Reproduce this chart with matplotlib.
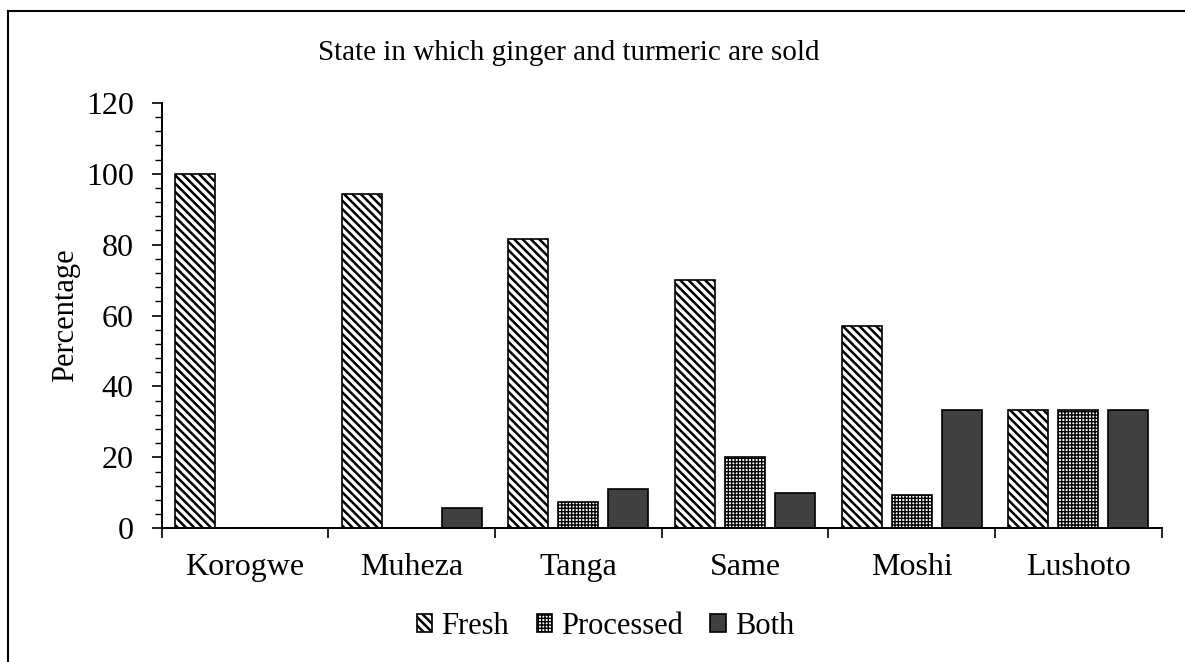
import numpy as np
import matplotlib
matplotlib.use('Agg')
import matplotlib.pyplot as plt
from matplotlib.lines import Line2D

# データ
districts = ['Korogwe', 'Muheza', 'Tanga', 'Same', 'Moshi', 'Lushoto']
fresh = [100, 94.4, 81.5, 70, 57.1, 33.3]
processed = [0, 0, 7.4, 20, 9.5, 33.3]
both = [0, 5.6, 11.1, 10, 33.3, 33.3]
series_names = ['Fresh', 'Processed', 'Both']

plt.rcParams['font.family'] = ['Liberation Serif', 'DejaVu Serif']
fs = 22
hatch_lw = [1.8, 1.0]

fig = plt.figure(figsize=(11.85, 6.62), dpi=100)
ax = fig.add_axes([0.1365, 0.202, 0.8438, 0.6427])

x = np.arange(len(districts))
w = 0.24
bars_f = ax.bar(x - 0.3, fresh, w, facecolor='white', edgecolor='black', hatch='\\\\\\\\',
                linewidth=1.2, label=series_names[0])
bars_p = ax.bar(x, processed, w, facecolor='white', edgecolor='black', hatch='+++++',
                linewidth=1.2, label=series_names[1])
ax.bar(x + 0.3, both, w, facecolor='#404040', edgecolor='black',
       linewidth=1.2, label=series_names[2])

# ハッチの線幅を系列ごとに設定
for p in bars_f:
    p.set_hatch_linewidth(hatch_lw[0])
for p in bars_p:
    p.set_hatch_linewidth(hatch_lw[1])

ax.set_xlim(-0.5, len(districts) - 0.5)
ax.set_ylim(0, 120)
ax.set_yticks(np.arange(0, 121, 20))
ax.set_yticks(np.arange(0, 121, 4), minor=True)
ax.set_xticks(x)
ax.set_xticklabels(districts)
ax.set_xticks(np.arange(-0.5, len(districts)), minor=True)

ax.tick_params(axis='y', which='major', length=7.2, width=1.2, labelsize=fs + 1, pad=13)
ax.tick_params(axis='y', which='minor', length=4.8, width=1.0)
ax.tick_params(axis='x', which='major', length=0, labelsize=fs + 1, pad=18)
ax.tick_params(axis='x', which='minor', length=7.2, width=1.2)

for s in ['top', 'right']:
    ax.spines[s].set_visible(False)
for s in ['left', 'bottom']:
    ax.spines[s].set_linewidth(1.4)
    ax.spines[s].set_zorder(5)

ax.set_ylabel('Percentage', fontsize=fs)

fig.text(0.480, 0.92, 'State in which ginger and turmeric are sold',
         ha='center', va='center', fontsize=fs - 1)

leg = ax.legend(loc='center', bbox_to_anchor=(0.511, 0.054), bbox_transform=fig.transFigure,
                ncol=3, frameon=False, fontsize=fs, handlelength=0.5, handleheight=0.5,
                handletextpad=0.3, columnspacing=0.9)
for h, lw in zip(leg.legend_handles[:2], hatch_lw):
    h.set_hatch_linewidth(lw)

# 外枠（左と上のみ）
fig.add_artist(Line2D([0.0068, 0.0068], [0, 0.9834], transform=fig.transFigure,
                      color='black', linewidth=1.5))
fig.add_artist(Line2D([0.0068, 1.0], [0.9834, 0.9834], transform=fig.transFigure,
                      color='black', linewidth=1.5))

fig.savefig('out.png', dpi=100)
